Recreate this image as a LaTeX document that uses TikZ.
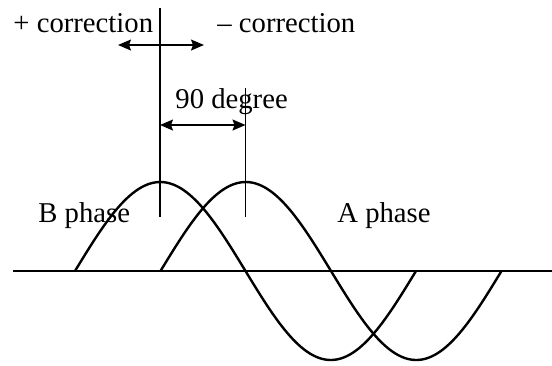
\documentclass[tikz,border=0pt]{standalone}
\usepackage{fontspec}
\setmainfont{Liberation Serif}
\usetikzlibrary{arrows.meta}
\tikzset{
  wave/.style={line width=1.2pt, line join=round},
  axisline/.style={line width=0.75pt},
  markline/.style={line width=0.7pt},
  dimarrow/.style={{Stealth[length=6.5pt,width=5.5pt,inset=1pt]}-{Stealth[length=6.5pt,width=5.5pt,inset=1pt]},
    line width=0.7pt},
  wavetext/.style={font=\fontsize{14.35}{16}\selectfont, inner sep=0pt, anchor=base west}
}
\begin{document}
\begin{tikzpicture}[x=0.5pt, y=-0.5pt]
  \useasboundingbox (0,0) rectangle (552,365);
  % axis
  \coordinate (axl) at (13,271);
  \coordinate (axr) at (552,271);
  \draw[axisline] (axl) -- (axr);
  % B phase and A phase
  \draw[wave, domain=0:360, samples=120, smooth]
    plot ({75+0.9472*\x}, {271-89*sin(\x)});
  \draw[wave, domain=0:360, samples=120, smooth]
    plot ({160.5+0.9472*\x}, {271-89*sin(\x)});
  % peak markers
  \coordinate (btop) at (160,8);
  \coordinate (bbot) at (160,217);
  \coordinate (atop) at (245.5,88);
  \coordinate (abot) at (245.5,217);
  \draw[markline] (btop) -- (bbot);
  \draw[markline] (atop) -- (abot);
  % arrows
  \coordinate (corl) at (118,45);
  \coordinate (corr) at (204,45);
  \draw[dimarrow] (corl) -- (corr);
  \coordinate (degl) at (160,125);
  \coordinate (degr) at (245.5,125);
  \draw[dimarrow] (degl) -- (degr);
  % texts
  \node[wavetext] (pluscor) at (13,32) {+ correction};
  \node[wavetext] (minuscor) at (217,32) {\textendash\ correction};
  \node[wavetext] (deg) at (175,108) {90 degree};
  \node[wavetext] (bphase) at (38,222) {B phase};
  \node[wavetext] (aphase) at (337,222) {A phase};
\end{tikzpicture}
\end{document}
